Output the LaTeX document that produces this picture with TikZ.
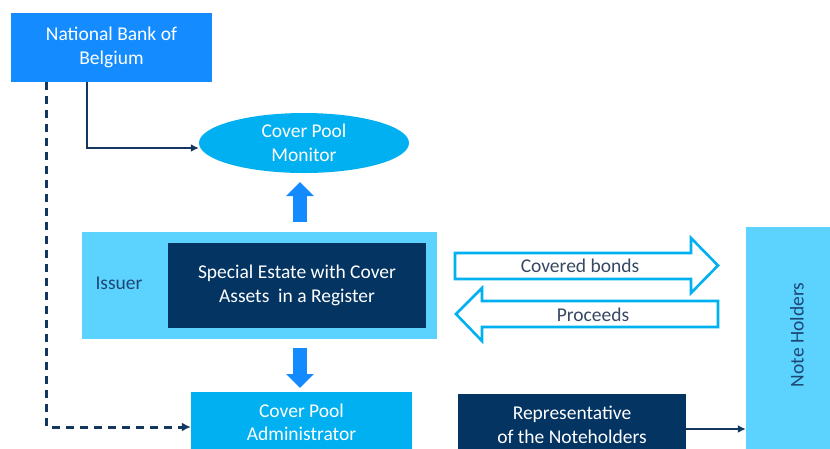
\documentclass[tikz,border=0pt]{standalone}
\usepackage{fontspec}
\setmainfont{Carlito}
\usetikzlibrary{arrows.meta,shapes.geometric,calc}
\definecolor{nbbblue}{RGB}{20,140,255}
\definecolor{cyanbox}{RGB}{0,176,240}
\definecolor{lightbox}{RGB}{92,210,255}
\definecolor{navybox}{RGB}{4,52,98}
\definecolor{navytext}{RGB}{30,70,115}
\definecolor{graytext}{RGB}{55,72,100}
\definecolor{connnavy}{RGB}{20,55,95}
\definecolor{blockblue}{RGB}{20,138,255}
\begin{document}
\begin{tikzpicture}[x=1pt,y=-1pt,
  every node/.style={font=\fontsize{19.5}{23.5}\selectfont, inner sep=0pt, align=center},
  conn/.style={draw=connnavy, line width=2.2pt, -{Latex[length=8pt,width=8pt]}},
  dashconn/.style={draw=connnavy, line width=3pt, dash pattern=on 8pt off 6pt, -{Latex[length=9pt,width=9pt]}},
  blockarrow/.style={draw=blockblue, line width=14pt, -{Triangle[length=14pt,width=27pt]}, blockblue},
  outarrow/.style={draw=cyanbox, line width=2.6pt, fill=white, line join=miter}
]
\useasboundingbox (0,0) rectangle (830,448);
\clip (0,0) rectangle (830,448);
\fill[white] (0,0) rectangle (830,448);

% boxes
\node[fill=nbbblue, text=white, minimum width=201pt, minimum height=69pt] (nbb) at (111.5,47.5) {National Bank of\\Belgium};
\node[ellipse, fill=cyanbox, text=white, minimum width=210pt, minimum height=60pt] (monitor) at (304,143) {Cover Pool\\Monitor};
\node[fill=lightbox, minimum width=355pt, minimum height=107pt] (issuer) at (259.5,285.5) {};
\node[text=navytext, anchor=center] (issuerlbl) at (119,283) {Issuer};
\node[fill=navybox, text=white, minimum width=258pt, minimum height=85pt] (estate) at (297,285.5) {Special Estate with Cover\\Assets\ \ in a Register};
\node[fill=cyanbox, text=white, minimum width=221pt, minimum height=61pt] (admin) at (301.5,422.5) {Cover Pool\\Administrator};
\node[fill=navybox, text=white, minimum width=228pt, minimum height=62pt] (rep) at (572,425) {Representative\\of the Noteholders};
\node[fill=lightbox, minimum width=94pt, minimum height=240pt] (nh) at (793,347) {};
\node[text=navytext, rotate=90] (nhlbl) at (797,335) {Note Holders};

% block arrows
\coordinate (upfrom) at (300,222);
\coordinate (upto) at (300,182);
\coordinate (downfrom) at (300,348);
\coordinate (downto) at (300,388);
\draw[blockarrow] (upfrom) -- (upto);
\draw[blockarrow] (downfrom) -- (downto);

% outlined arrows
\draw[outarrow] (455,253) -- (691,253) -- (691,238) -- (718,265.5) -- (691,293) -- (691,279) -- (455,279) -- cycle;
\node[text=graytext] (cb) at (580,266) {Covered bonds};
\draw[outarrow] (718,301) -- (482,301) -- (482,288) -- (456,314) -- (482,341) -- (482,327) -- (718,327) -- cycle;
\node[text=graytext] (pr) at (593,315) {Proceeds};

% connectors
\draw[conn] ([xshift=76pt]nbb.south west) |- ([yshift=-5pt]monitor.west);
\draw[dashconn] ([xshift=36pt]nbb.south west) |- ([yshift=-4.5pt]admin.west);
\draw[conn] ([yshift=-4pt]rep.east) -- ([yshift=-4pt]rep.east -| nh.west);
\end{tikzpicture}
\end{document}
